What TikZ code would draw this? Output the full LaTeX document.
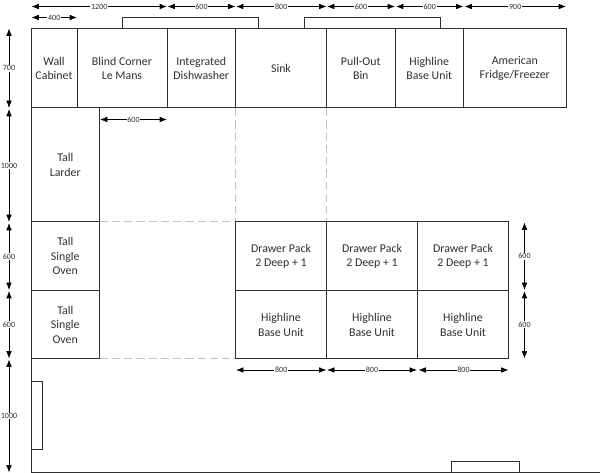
\documentclass[tikz,border=0pt]{standalone}
\usepackage{fontspec}
\setmainfont{Carlito}
\usetikzlibrary{arrows.meta}
\definecolor{inkgrey}{HTML}{303030}
\definecolor{dashgrey}{HTML}{C4C4C4}
\tikzset{
  unitbox/.style={draw=inkgrey,line width=0.75pt,inner sep=0pt,align=center,text=inkgrey,
    font=\fontsize{8.9pt}{10.9pt}\selectfont},
  dimline/.style={black,line width=0.5pt,{Latex[length=5.5pt,width=4.2pt]}-{Latex[length=5.5pt,width=4.2pt]}},
  dimlabel/.style={fill=white,inner sep=0.6pt,text=inkgrey,font=\fontsize{6pt}{6pt}\selectfont},
  wall/.style={draw=inkgrey,line width=0.75pt},
  hidden/.style={draw=dashgrey,line width=0.75pt,dash pattern=on 6.2pt off 3pt},
}
% \ubox{name}{x0}{y0}{x1}{y1}{text}
\newcommand{\ubox}[6]{%
  \pgfmathsetmacro{\cxx}{(#2+#4)/2}\pgfmathsetmacro{\cyy}{(#3+#5)/2}%
  \pgfmathsetmacro{\wdd}{(#4-#2)*0.75}\pgfmathsetmacro{\htt}{(#5-#3)*0.75}%
  \node[unitbox,minimum width=\wdd pt,minimum height=\htt pt] (#1) at (\cxx,\cyy) {#6};}
% \dimarr{name}{x0,y0}{x1,y1}{text}
\newcommand{\dimarr}[4]{%
  \coordinate (#1a) at (#2);\coordinate (#1b) at (#3);
  \draw[dimline] (#1a) -- node[dimlabel] (#1l) {#4} (#1b);}
\begin{document}
\begin{tikzpicture}[x=0.75pt,y=-0.75pt]
\useasboundingbox[fill=white] (0,0) rectangle (600,473);
% hidden lines
\coordinate (hs) at (235.5,108);
\coordinate (hp) at (326.5,108);
\coordinate (hl1) at (99.5,222);
\coordinate (hl2) at (99.5,359);
\coordinate (hr1) at (235.5,222);
\coordinate (hr2) at (235.5,359);
\coordinate (hr3) at (326.5,222);
\draw[hidden] (hs) -- (hr1);
\draw[hidden] (hp) -- (hr3);
\draw[hidden] (hl1) -- (hr1);
\draw[hidden] (hl2) -- (hr2);
% top row
\ubox{wc}{31}{28.5}{77}{108}{Wall\\Cabinet}
\ubox{bc}{77}{28.5}{167}{108}{Blind Corner\\Le Mans}
\ubox{id}{167}{28.5}{235.5}{108}{Integrated\\Dishwasher}
\ubox{si}{235.5}{28.5}{326.5}{108}{Sink}
\ubox{pb}{326.5}{28.5}{395}{108}{Pull-Out\\Bin}
\ubox{hb}{395}{28.5}{463.5}{108}{Highline\\Base Unit}
\ubox{ff}{463.5}{28.5}{566}{108}{American\\Fridge/Freezer}
% left column
\ubox{tl}{31}{108}{99.5}{222}{Tall\\Larder}
\ubox{to}{31}{222}{99.5}{290.5}{Tall\\Single\\Oven}
\ubox{tp}{31}{290.5}{99.5}{359}{Tall\\Single\\Oven}
% island
\ubox{d1}{235.5}{222}{326.5}{290.5}{Drawer Pack\\2 Deep + 1}
\ubox{d2}{326.5}{222}{417.5}{290.5}{Drawer Pack\\2 Deep + 1}
\ubox{d3}{417.5}{222}{508.5}{290.5}{Drawer Pack\\2 Deep + 1}
\ubox{h1}{235.5}{290.5}{326.5}{359}{Highline\\Base Unit}
\ubox{h2}{326.5}{290.5}{417.5}{359}{Highline\\Base Unit}
\ubox{h3}{417.5}{290.5}{508.5}{359}{Highline\\Base Unit}
% brackets
\coordinate (b1a) at (122,28.5);\coordinate (b1b) at (122,17.5);
\coordinate (b1c) at (258.5,17.5);\coordinate (b1d) at (258.5,28.5);
\draw[wall] (b1a) -- (b1b) -- (b1c) -- (b1d);
\coordinate (b2a) at (304,28.5);\coordinate (b2b) at (304,17.5);
\coordinate (b2c) at (440.5,17.5);\coordinate (b2d) at (440.5,28.5);
\draw[wall] (b2a) -- (b2b) -- (b2c) -- (b2d);
% walls
\coordinate (w1) at (31,359);\coordinate (w2) at (31,472.5);\coordinate (w3) at (600,472.5);
\draw[wall] (w1) -- (w2) -- (w3);
\coordinate (r1a) at (31,381.5);\coordinate (r1b) at (42,381.5);
\coordinate (r1c) at (42,449.5);\coordinate (r1d) at (31,449.5);
\draw[wall] (r1a) -- (r1b) -- (r1c) -- (r1d);
\coordinate (r2a) at (451.5,472.5);\coordinate (r2b) at (451.5,461.5);
\coordinate (r2c) at (519.5,461.5);\coordinate (r2d) at (519.5,472.5);
\draw[wall] (r2a) -- (r2b) -- (r2c) -- (r2d);
% dimensions: top
\dimarr{t1}{31.5,6.5}{167,6.5}{1200}
\dimarr{t2}{167.5,6.5}{235.5,6.5}{600}
\dimarr{t3}{236,6.5}{326.5,6.5}{800}
\dimarr{t4}{327,6.5}{395,6.5}{600}
\dimarr{t5}{396,6.5}{463.5,6.5}{600}
\dimarr{t6}{464.5,6.5}{566,6.5}{900}
\dimarr{t7}{31.5,17.5}{77,17.5}{400}
\dimarr{t8}{100,119.5}{167,119.5}{600}
% dimensions: left
\dimarr{l1}{9,28.5}{9,108}{700}
\dimarr{l2}{9,109}{9,222}{1000}
\dimarr{l3}{9,223}{9,290}{600}
\dimarr{l4}{9,291}{9,358.5}{600}
\dimarr{l5}{9,359.5}{9,472.5}{1000}
% dimensions: right and bottom
\dimarr{r1}{524.5,222.5}{524.5,290}{600}
\dimarr{r2}{524.5,291}{524.5,358.5}{600}
\dimarr{u1}{236,370}{326.5,370}{800}
\dimarr{u2}{327,370}{417,370}{800}
\dimarr{u3}{418.5,370}{508.5,370}{800}
\end{tikzpicture}
\end{document}
